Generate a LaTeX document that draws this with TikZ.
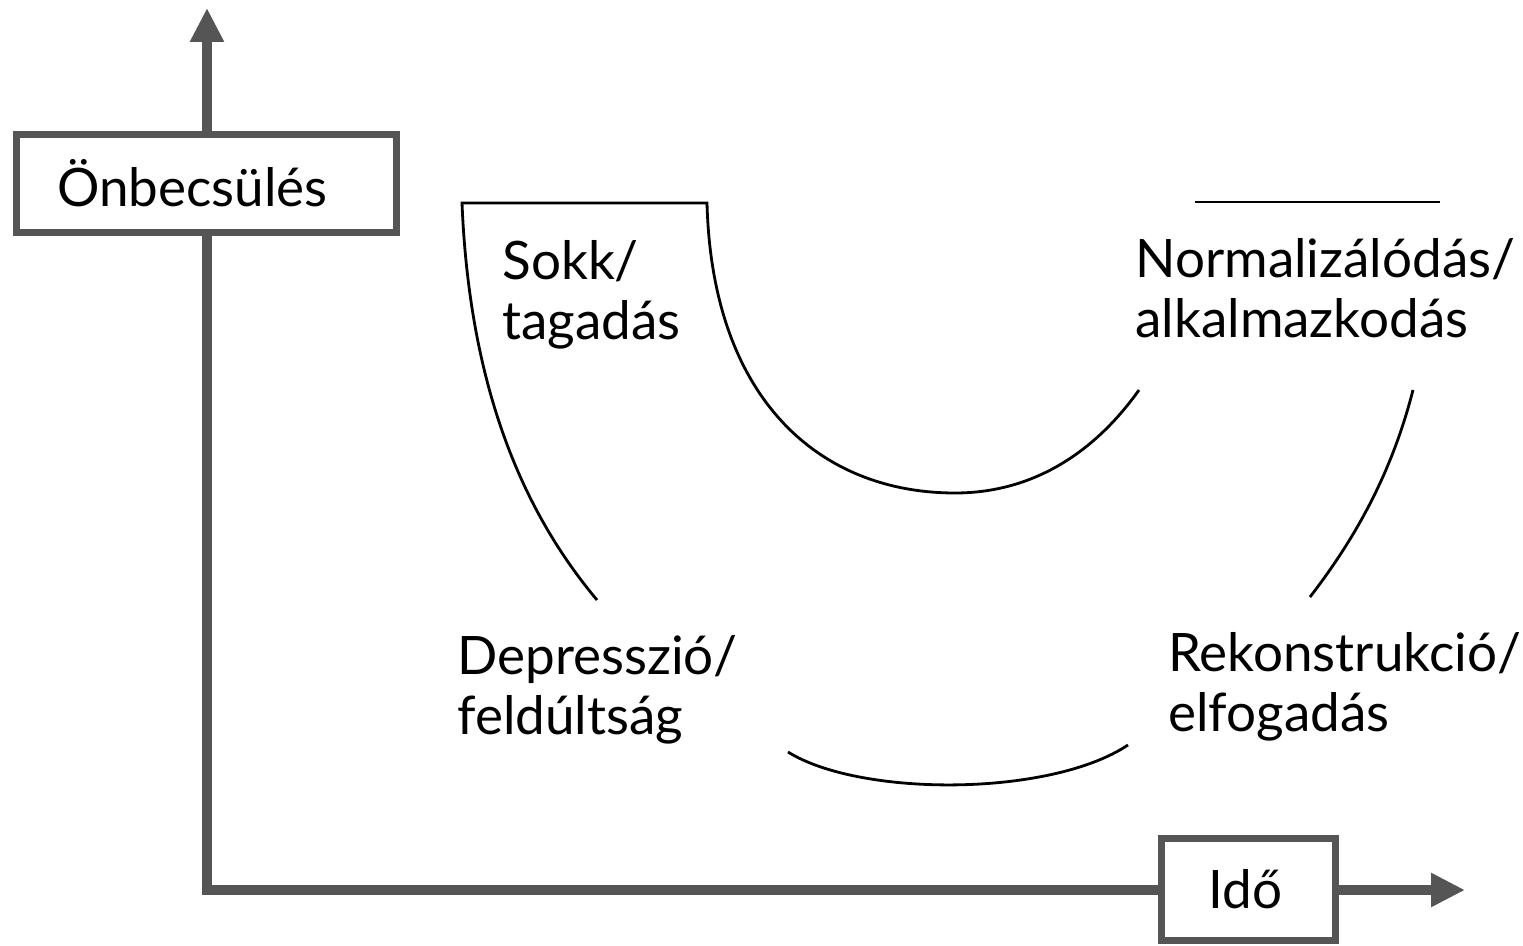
\documentclass[tikz,border=0pt]{standalone}
\usepackage{fontspec}
\setmainfont{Lato}
\usetikzlibrary{arrows.meta}
\definecolor{axisgray}{HTML}{555555}
\tikzset{
  axis/.style={draw=axisgray, line width=5pt, line join=miter},
  boxed/.style={draw=axisgray, line width=3.5pt, fill=white, rectangle, inner sep=0pt},
  curve/.style={draw=black, line width=1.4pt},
  lbl/.style={anchor=base west, inner sep=0pt, align=left, font=\fontsize{26.5}{30}\selectfont}
}
\begin{document}
\begin{tikzpicture}[x=0.5pt, y=-0.5pt]
\useasboundingbox (0,0) rectangle (1523,946);
% axes
\coordinate (ytip) at (207,8);
\coordinate (corner) at (207,890);
\coordinate (xtip) at (1465,890);
\draw[axis, {Triangle[length=17pt,width=16pt]}-{Triangle[length=17pt,width=16pt]}] (ytip) -- (corner) -- (xtip);
% boxes
\node[boxed, minimum width=190pt, minimum height=49pt] (ybox) at (206.5,183.5) {};
\node[lbl] (ylab) at (57,207) {Önbecsülés};
\node[boxed, minimum width=87pt, minimum height=51pt] (xbox) at (1248.5,889.5) {};
\node[lbl] (xlab) at (1208,908) {Idő};
% curves
\coordinate (a1) at (597,600);
\coordinate (a2) at (462,203);
\coordinate (a3) at (707,203);
\coordinate (a4) at (955,493);
\coordinate (a5) at (1139,390);
\draw[curve, line join=miter] (a1) .. controls (530,520) and (470,400) .. (a2) -- (a3)
  .. controls (712,400) and (820,493) .. (a4)
  .. controls (1040,493) and (1100,445) .. (a5);
\coordinate (b1) at (1195,202);
\coordinate (b2) at (1440,202);
\draw[curve] (b1) -- (b2);
\coordinate (c1) at (1413,390);
\coordinate (c2) at (1310,597);
\draw[curve] (c1) .. controls (1390,480) and (1350,545) .. (c2);
\coordinate (d1) at (788,752);
\coordinate (d2) at (1128,745);
\draw[curve] (d1) .. controls (860,797) and (1050,797) .. (d2);
% labels (base = last line)
\node[lbl] (sokk) at (502,340) {Sokk/\\tagadás};
\node[lbl] (norm) at (1135,338) {Normalizálódás/\\alkalmazkodás};
\node[lbl] (depr) at (457,735) {Depresszió/\\feldúltság};
\node[lbl] (rekon) at (1168,732) {Rekonstrukció/\\elfogadás};
\end{tikzpicture}
\end{document}
